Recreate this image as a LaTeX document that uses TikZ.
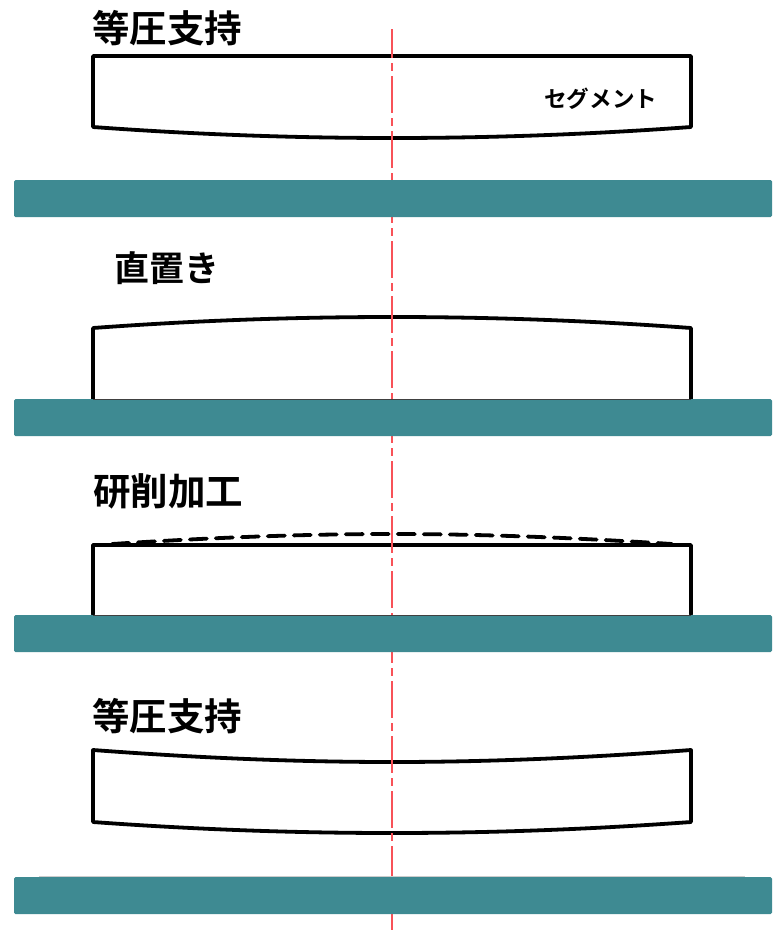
\documentclass[tikz,border=0pt]{standalone}
\usepackage{fontspec}
\newfontfamily\cjk{Noto Sans CJK JP Bold}[BoldFont={Noto Sans CJK JP Bold}]
\definecolor{barteal}{HTML}{3E8A92}
\definecolor{axisred}{HTML}{F85258}
\tikzset{
  bar/.style={fill=barteal,draw=none,rounded corners=1.5pt},
  seg/.style={draw=black,line width=3.8pt,line join=round,line cap=round},
  axis/.style={draw=axisred,line width=1.8pt,dash pattern=on 36.5pt off 5.5pt on 8pt off 5pt,dash phase=8pt},
  title/.style={font=\cjk\fontsize{37.5}{40}\selectfont,inner sep=0pt,anchor=west},
  small/.style={font=\cjk\fontsize{22.6}{24}\selectfont,inner sep=0pt,anchor=west},
}
\begin{document}
\begin{tikzpicture}[x=1pt,y=-1pt]
\useasboundingbox (0,0) rectangle (777,930);
% segments
\draw[seg] (93,56) -- (691,56) -- (691,127) .. controls (591,134.3) and (492,138) .. (392,138) .. controls (292,138) and (193,134.3) .. (93,127) -- cycle;
\draw[seg] (93,399) -- (93,328) .. controls (193,320.7) and (292,317) .. (392,317) .. controls (492,317) and (591,320.7) .. (691,328) -- (691,399);
\draw[seg] (93,614) -- (93,545) -- (691,545) -- (691,614);
\draw[seg,dash pattern=on 17pt off 9pt] (112,544) .. controls (205,538) and (298,534) .. (392,534) .. controls (486,534) and (579,538) .. (672,544);
\draw[seg] (93,750) .. controls (193,757.5) and (292,762) .. (392,762) .. controls (492,762) and (591,757.5) .. (691,750) -- (691,822) .. controls (591,829.3) and (492,833) .. (392,833) .. controls (292,833) and (193,829.3) .. (93,822) -- cycle;
% axis
\coordinate (axistop) at (392,29);
\coordinate (axisend) at (392,930);
\draw[axis] (axistop) -- (axisend);
% supports
\draw[draw=black!20,line width=1.5pt] (39,876.5) -- (745,876.5);
\path[bar] (14,180) rectangle (772,217);
\path[bar] (14,399) rectangle (772,436);
\path[bar] (14,615) rectangle (772,652);
\path[bar] (14,877) rectangle (772,914);
\draw[draw=black!75,line width=1pt] (93,399.5) -- (691,399.5);
\draw[draw=black!75,line width=1pt] (93,615) -- (691,615);
% labels
\node[title] (t1) at (92,28) {等圧支持};
\node[title,font=\cjk\fontsize{35}{38}\selectfont] (t2) at (114.5,268) {直置き};
\node[title] (t3) at (93,491) {研削加工};
\node[title] (t4) at (92,716) {等圧支持};
\node[small] (seglabel) at (544,99) {セグメント};
\end{tikzpicture}
\end{document}
